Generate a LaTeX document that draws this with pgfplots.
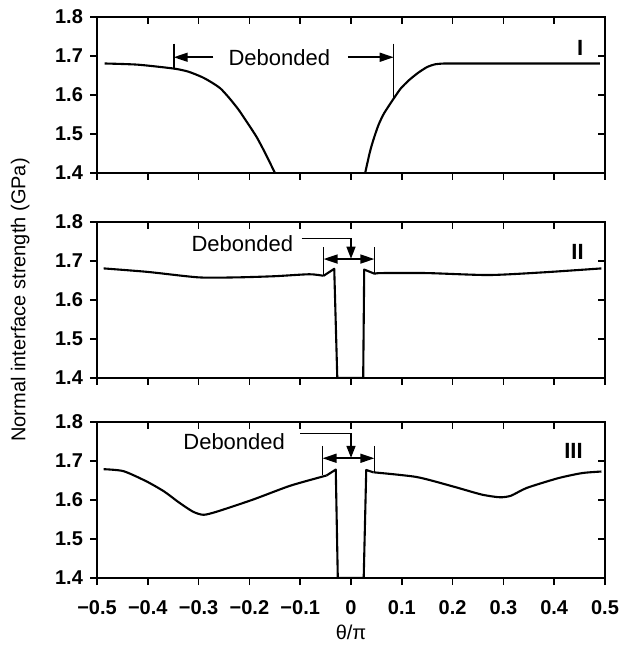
\documentclass[border=0pt]{standalone}
\usepackage{fontspec}
\setmainfont{Liberation Sans}
\usepackage{pgfplots}
\pgfplotsset{compat=1.18}
\usetikzlibrary{arrows.meta}

\newcommand{\lblfont}{\fontsize{11}{13}\selectfont}
\newcommand{\tickfont}{\fontsize{10}{12}\selectfont\bfseries}

\tikzset{
  curve/.style={black, line width=1.05pt, line join=round},
  note/.style={black, line width=0.8pt},
  harrow/.style={note, -{Triangle[length=7pt,width=4.5pt]}},
  darrow/.style={note, {Triangle[length=7pt,width=4.5pt]}-{Triangle[length=7pt,width=4.5pt]}},
  varrow/.style={note, -{Triangle[length=6pt,width=4.5pt]}},
}

\pgfplotsset{
  panel/.style={
    width=254pt, height=78pt, scale only axis,
    anchor=south west,
    xmin=-0.5, xmax=0.5, ymin=1.4, ymax=1.8,
    xtick={-0.5,-0.4,-0.3,-0.2,-0.1,0,0.1,0.2,0.3,0.4,0.5},
    ytick={1.4,1.5,1.6,1.7,1.8},
    axis line style={line width=0.85pt},
    every tick/.style={black, line width=0.85pt},
    major tick length=3.5pt,
    tick label style={font=\tickfont},
    label style={font=\lblfont},
  },
  outer ticks/.style={
    panel, tick pos=left, tick align=outside,
    yticklabels={1.4,1.5,1.6,1.7,1.8},
    xticklabels={},
    xticklabel style={yshift=-4pt},
  },
  inner ticks/.style={
    panel, tick pos=right, tick align=inside,
    xticklabels={}, yticklabels={},
  },
}

\begin{document}
\begin{tikzpicture}

% ---------------- Case III (bottom) ----------------
\begin{axis}[outer ticks, at={(0,0)},
  xticklabels={−0.5,−0.4,−0.3,−0.2,−0.1,0,0.1,0.2,0.3,0.4,0.5},
  xlabel={θ/π},
  every axis x label/.style={at={(axis description cs:0.5,0)}, anchor=center, yshift=-27pt}]
\addplot[curve, smooth, tension=0.4] table {
-0.487 1.679
-0.448 1.674
-0.403 1.648
-0.368 1.622
-0.339 1.594
-0.311 1.570
-0.290 1.562
-0.262 1.571
-0.193 1.601
-0.121 1.636
-0.059 1.659
-0.048 1.663
};
\addplot[curve] table {
-0.048 1.663
-0.030 1.678
-0.026 1.400
0.025 1.400
0.030 1.677
0.044 1.671
};
\addplot[curve, smooth, tension=0.4] table {
0.044 1.671
0.129 1.659
0.200 1.635
0.257 1.614
0.293 1.607
0.315 1.611
0.346 1.631
0.408 1.656
0.455 1.669
0.493 1.673
};
\node[font=\lblfont] at (-0.230,1.749) {Debonded};
\draw[note] (-0.100,1.771) -- (0,1.771);
\draw[varrow] (0,1.771) -- (0,1.708);
\draw[note] (-0.056,1.739) -- (-0.056,1.664);
\draw[note] (0.046,1.739) -- (0.046,1.670);
\draw[darrow] (-0.056,1.707) -- (0.046,1.707);
\node[font=\lblfont\bfseries] at (0.438,1.725) {III};
\end{axis}
\begin{axis}[inner ticks, at={(0,0)}]
\end{axis}

% ---------------- Case II (middle) ----------------
\begin{axis}[outer ticks, at={(0,100pt)},
  ylabel={Normal interface strength (GPa)},
  every axis y label/.style={at={(axis description cs:-0.151,0.5)}, rotate=90, anchor=center}]
\addplot[curve, smooth, tension=0.4] table {
-0.487 1.681
-0.400 1.672
-0.300 1.658
-0.224 1.658
-0.150 1.661
-0.082 1.666
-0.054 1.662
};
\addplot[curve] table {
-0.054 1.662
-0.033 1.680
-0.027 1.400
0.024 1.400
0.026 1.678
0.047 1.667
};
\addplot[curve, smooth, tension=0.4] table {
0.047 1.667
0.058 1.669
0.150 1.669
0.271 1.664
0.380 1.671
0.493 1.681
};
\node[font=\lblfont] at (-0.214,1.745) {Debonded};
\draw[note] (-0.097,1.758) -- (0,1.758);
\draw[varrow] (0,1.758) -- (0,1.706);
\draw[note] (-0.054,1.735) -- (-0.054,1.662);
\draw[note] (0.046,1.735) -- (0.046,1.668);
\draw[darrow] (-0.054,1.705) -- (0.046,1.705);
\node[font=\lblfont\bfseries] at (0.446,1.723) {II};
\end{axis}
\begin{axis}[inner ticks, at={(0,100pt)}]
\end{axis}

% ---------------- Case I (top) ----------------
\begin{axis}[outer ticks, at={(0,202.65pt)}]
\addplot[curve, smooth, tension=0.4] table {
-0.485 1.680
-0.420 1.677
-0.349 1.667
-0.320 1.659
-0.293 1.645
-0.275 1.632
-0.257 1.616
-0.240 1.592
-0.221 1.561
-0.204 1.528
-0.186 1.492
-0.168 1.448
-0.150 1.400
};
\addplot[curve, smooth, tension=0.4] table {
0.028 1.400
0.037 1.452
0.044 1.484
0.054 1.522
0.065 1.552
0.084 1.590
0.098 1.616
0.114 1.637
0.132 1.656
0.150 1.671
0.166 1.678
0.185 1.680
0.220 1.680
0.350 1.680
0.490 1.680
};
\node[font=\lblfont] at (-0.141,1.696) {Debonded};
\draw[note] (-0.349,1.731) -- (-0.349,1.667);
\draw[note] (0.084,1.731) -- (0.084,1.590);
\draw[harrow] (-0.271,1.696) -- (-0.349,1.696);
\draw[harrow] (-0.006,1.696) -- (0.084,1.696);
\node[font=\lblfont\bfseries] at (0.451,1.720) {I};
\end{axis}
\begin{axis}[inner ticks, at={(0,202.65pt)}]
\end{axis}

% page extent around the three panels
\path (-48.5pt,-37.5pt) rectangle (266.5pt,289pt);
\end{tikzpicture}
\end{document}
